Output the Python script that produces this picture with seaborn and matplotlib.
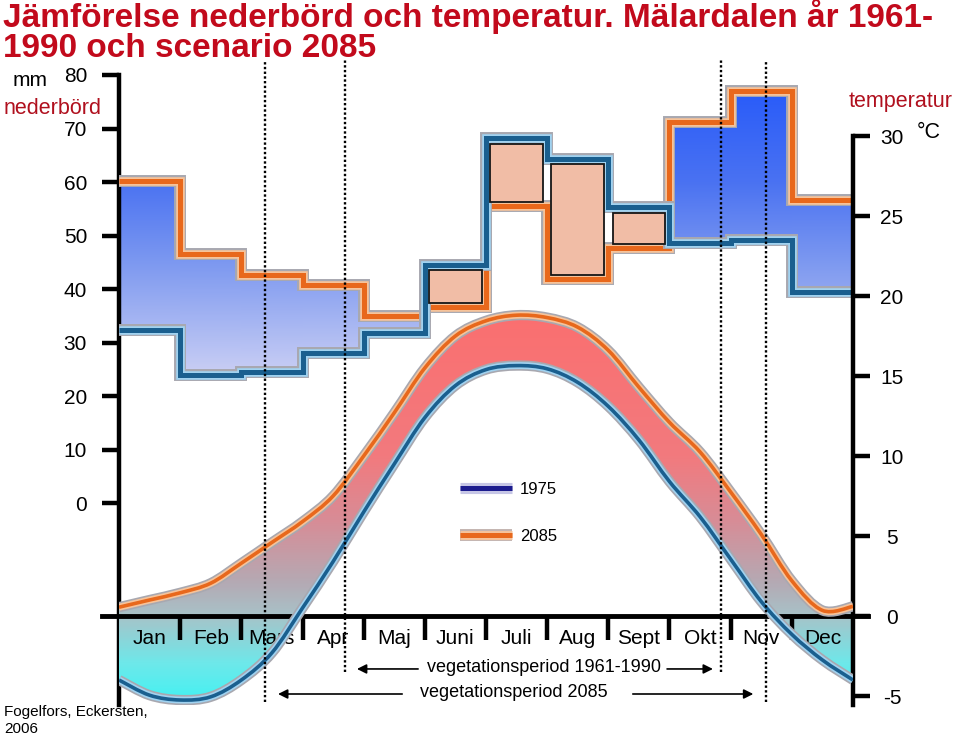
import numpy as np
import matplotlib
matplotlib.use("Agg")
import matplotlib.pyplot as plt
import seaborn as sns
from matplotlib.colors import LinearSegmentedColormap, Normalize
from matplotlib.lines import Line2D
from matplotlib.legend_handler import HandlerTuple
from matplotlib.path import Path
from matplotlib.patches import PathPatch

# ---------------- data ----------------
months = ['Jan', 'Feb', 'Mars', 'Apr', 'Maj', 'Juni', 'Juli', 'Aug', 'Sept', 'Okt', 'Nov', 'Dec']

# nederbörd per månad (mm)
prec_1975 = [32.3, 23.9, 24.5, 28.0, 31.8, 44.5, 68.2, 64.3, 55.3, 48.6, 49.2, 39.4]
prec_2085 = [60.2, 46.5, 42.6, 40.7, 35.0, 36.6, 55.5, 41.9, 47.7, 71.2, 77.0, 56.6]

# temperatur, avläst varje halvmånad (°C)
temp_time = [0, 0.5, 1, 1.5, 2, 2.5, 3, 3.5, 4, 4.5, 5, 5.5, 6,
             6.5, 7, 7.5, 8, 8.5, 9, 9.5, 10, 10.5, 11, 11.5, 12]
temp_1975 = [-4.0, -4.95, -5.25, -5.05, -4.0, -2.3, 0.5, 3.4, 6.5, 9.5, 12.4, 14.4, 15.4,
             15.65, 15.45, 14.6, 13.1, 11.0, 8.4, 6.2, 3.55, 0.9, -1.15, -2.75, -4.0]
temp_2085 = [0.55, 1.0, 1.45, 2.05, 3.3, 4.6, 5.9, 7.5, 10.0, 12.7, 15.5, 17.5, 18.45,
             18.8, 18.65, 18.05, 16.6, 14.3, 12.1, 10.25, 7.75, 5.1, 2.2, 0.35, 0.6]

# vegetationsperiod, start/slut (månad)
veg_1961_1990 = [3.69, 9.84]
veg_2085 = [2.39, 10.57]

prec_ticks = [0, 10, 20, 30, 40, 50, 60, 70, 80]
temp_ticks = [-5, 0, 5, 10, 15, 20, 25, 30]
title_lines = ['Jämförelse nederbörd och temperatur. Mälardalen år 1961-',
               '1990 och scenario 2085']

# ---------------- style ----------------
sns.set_style("white")
plt.rcParams['font.family'] = ['Liberation Sans', 'DejaVu Sans']
plt.rcParams['axes.unicode_minus'] = False
plt.rcParams['axes.edgecolor'] = 'black'
plt.rcParams['xtick.color'] = 'black'
plt.rcParams['ytick.color'] = 'black'
plt.rcParams['text.color'] = 'black'

RED = '#c20a1c'
DARK_RED = '#b0101e'
BLUE = '#1a5f8f'
BLUE_LIGHT = '#a0d2f0'
ORANGE = '#e8681c'
ORANGE_LIGHT = '#f6c39a'
GREY = '#a8a8b0'

W, H = 960, 736
def fx(px):
    return px / W
def fy(py):
    return 1 - py / H

def smooth_verts(x, y):
    # utjämnad linje genom punkterna (som Excels "utjämnad linje"), kubiska bezier-kurvor
    p = np.column_stack([x, y]).astype(float)
    q = np.vstack([p[0], p, p[-1]])
    verts = [p[0]]
    for i in range(1, len(q) - 2):
        verts += [q[i] + (q[i + 1] - q[i - 1]) / 6, q[i + 1] - (q[i + 2] - q[i]) / 6, q[i + 1]]
    return np.array(verts)

fig = plt.figure(figsize=(9.6, 7.36), dpi=100)
fig.patch.set_facecolor('white')
ax_p = fig.add_axes([fx(119), fy(705), 734 / W, 630 / H])   # nederbörd (vänster)
ax = ax_p.twinx()                                             # temperatur (höger)
ax.patch.set_visible(False)
ax.set_axisbelow(False)

# ---------------- nederbörd ----------------
prec_cmap = LinearSegmentedColormap.from_list(
    'prec', [(0, '#d2d6f6'), (0.083, '#c6ccf4'), (0.417, '#7c98f0'),
             (0.667, '#4a72f2'), (1, '#2458fa')])
prec_norm = Normalize(20, 80)
for i, (b, o) in enumerate(zip(prec_1975, prec_2085)):
    if o > b:
        ax_p.imshow(np.linspace(o, b, 120)[:, None], extent=(i, i + 1, b, o),
                    cmap=prec_cmap, norm=prec_norm, aspect='auto', zorder=1)

xs = list(range(13))
for vals, core, light in [(prec_2085, ORANGE, ORANGE_LIGHT), (prec_1975, BLUE, BLUE_LIGHT)]:
    ys = vals + [vals[-1]]
    for c, lw in [(GREY, 8.6), (light, 6.2), (core, 3.6)]:
        sns.lineplot(x=xs, y=ys, ax=ax_p, color=c, lw=lw, drawstyle='steps-post',
                     solid_joinstyle='miter', solid_capstyle='butt', zorder=3)

# månader där 1975 > 2085 : laxfärgade rutor
for i, (b, o) in enumerate(zip(prec_1975, prec_2085)):
    if b > o:
        ax_p.bar(i + 0.5, b - o - 1.8, bottom=o + 0.8, width=0.86, color='#f1bda6',
                 edgecolor='#161616', linewidth=1.3, zorder=5)

ax_p.set_xlim(0, 12)
ax_p.set_ylim(-37.7, 80)
ax_p.set_yticks(prec_ticks)
ax_p.tick_params(axis='y', direction='out', length=12, width=3.2, labelsize=15, pad=11,
                 left=True, right=False)
ax_p.xaxis.set_visible(False)
ax_p.set_xlabel('')
ax_p.set_ylabel('')
for s in ['top', 'right', 'bottom']:
    ax_p.spines[s].set_visible(False)
ax_p.spines['left'].set_linewidth(3.2)

# ---------------- temperatur ----------------
temp_cmap = LinearSegmentedColormap.from_list(
    'temp', [(0, '#38f4f4'), (0.115, '#6ee8ea'), (0.231, '#a8c2c8'), (0.308, '#b4aab4'),
             (0.462, '#d88c96'), (0.615, '#f27a7e'), (1, '#fc6e6e')])
temp_norm = Normalize(-6, 20)

v85 = smooth_verts(temp_time, temp_2085)
v75 = smooth_verts(temp_time, temp_1975)
k = len(v85) - 1
band_path = Path(np.vstack([v85, v75[::-1], v85[:1]]),
                 [Path.MOVETO] + [Path.CURVE4] * k + [Path.LINETO] + [Path.CURVE4] * k
                 + [Path.CLOSEPOLY])
im = ax.imshow(np.linspace(20, -6, 300)[:, None], extent=(0, 12, -6, 20), cmap=temp_cmap,
               norm=temp_norm, aspect='auto', zorder=1, interpolation='bilinear')
im.set_clip_path(band_path, transform=ax.transData)

for verts, core, light in [(v85, ORANGE, ORANGE_LIGHT), (v75, BLUE, BLUE_LIGHT)]:
    curve = Path(verts, [Path.MOVETO] + [Path.CURVE4] * (len(verts) - 1))
    for c, lw in [(GREY, 7.4), (light, 5.0), (core, 2.6)]:
        ax.add_patch(PathPatch(curve, facecolor='none', edgecolor=c, lw=lw,
                               capstyle='butt', joinstyle='round', zorder=3))

ax.set_xlim(0, 12)
ax.set_ylim(-5.5625, 33.8125)
ax.set_yticks(temp_ticks)
ax.tick_params(axis='y', direction='out', length=12, width=3.2, labelsize=15, pad=16,
               right=True, left=False)
for lbl in ax.get_yticklabels():
    lbl.set_horizontalalignment('center')

ax.xaxis.set_visible(True)
ax.set_xticks(range(1, 12))
ax.set_xticklabels([])
ax.set_xticks([i + 0.5 for i in range(12)], minor=True)
ax.set_xticklabels(months, minor=True)
ax.tick_params(axis='x', which='major', direction='out', length=17, width=3.2, bottom=True)
ax.tick_params(axis='x', which='minor', length=0, labelsize=15, pad=9, bottom=True)
ax.spines['left'].set_visible(False)
ax.spines['top'].set_visible(False)
ax.spines['right'].set_bounds(-5.5625, 30)
ax.spines['right'].set_linewidth(3.2)
ax.spines['bottom'].set_position(('data', 0))
ax.spines['bottom'].set_bounds(-0.28, 12.25)
ax.spines['bottom'].set_linewidth(3.5)

# vegetationsperiod: prickade linjer, pilar, text
ax.vlines(veg_1961_1990, -3.5, 34.75, colors='black', linestyles=(0, (1, 1)), lw=1.7,
          clip_on=False, zorder=10)
ax.vlines(veg_2085, -5.375, 34.75, colors='black', linestyles=(0, (1, 1)), lw=1.7,
          clip_on=False, zorder=10)
arrow = dict(arrowstyle='-|>', color='black', lw=1.2, mutation_scale=14, shrinkA=0, shrinkB=0)
y1, y2 = -3.31, -4.875
ax.annotate('', xy=(veg_1961_1990[0] + 0.2, y1), xytext=(4.89, y1), arrowprops=arrow,
            annotation_clip=False)
ax.annotate('', xy=(veg_1961_1990[1] - 0.13, y1), xytext=(8.96, y1), arrowprops=arrow,
            annotation_clip=False)
ax.annotate('', xy=(veg_2085[0] + 0.21, y2), xytext=(4.63, y2), arrowprops=arrow,
            annotation_clip=False)
ax.annotate('', xy=(veg_2085[1] - 0.2, y2), xytext=(8.40, y2), arrowprops=arrow,
            annotation_clip=False)
ax.text(6.95, -3.25, 'vegetationsperiod 1961-1990', ha='center', va='center', fontsize=13)
ax.text(6.46, -4.81, 'vegetationsperiod 2085', ha='center', va='center', fontsize=13)

# legend
h1975 = (Line2D([], [], color='#c6c6e6', lw=8, solid_capstyle='butt'),
         Line2D([], [], color='#1c1c8e', lw=3.6, solid_capstyle='butt'))
h2085 = (Line2D([], [], color='#c4b4b0', lw=8.6, solid_capstyle='butt'),
         Line2D([], [], color=ORANGE_LIGHT, lw=6.4, solid_capstyle='butt'),
         Line2D([], [], color=ORANGE, lw=3.6, solid_capstyle='butt'))
fig.legend(handles=[h1975, h2085], labels=['1975', '2085'],
           handler_map={tuple: HandlerTuple(ndivide=1, pad=0)}, loc='upper left',
           bbox_to_anchor=(fx(460), fy(482)), frameon=False, fontsize=12,
           handlelength=3.1, handletextpad=0.5, labelspacing=1.9, borderpad=0,
           borderaxespad=0)

# ---------------- texter ----------------
title_family = ['Liberation Sans Narrow', 'DejaVu Sans Condensed', 'Liberation Sans']
t1 = fig.text(fx(3), fy(27), title_lines[0], fontsize=24, fontweight='bold', color=RED,
              family=title_family, fontstretch='condensed', va='baseline', ha='left')
t2 = fig.text(fx(3), fy(57), title_lines[1], fontsize=24, fontweight='bold', color=RED,
              family=title_family, fontstretch='condensed', va='baseline', ha='left')
fig.canvas.draw()
tw = t1.get_window_extent().width
if tw > 930:
    t1.set_fontsize(24 * 930 / tw)
    t2.set_fontsize(24 * 930 / tw)

fig.text(fx(30), fy(80), 'mm', fontsize=15, ha='center', va='center')
fig.text(fx(4), fy(108), 'nederbörd', fontsize=15.5, color=DARK_RED, ha='left', va='center')
fig.text(fx(849), fy(102), 'temperatur', fontsize=15.5, color=DARK_RED, ha='left', va='center')
fig.text(fx(917), fy(133), '°C', fontsize=15.5, ha='left', va='center')
fig.text(fx(4), fy(712), 'Fogelfors, Eckersten,', fontsize=11, ha='left', va='center')
fig.text(fx(4), fy(729), '2006', fontsize=11, ha='left', va='center')

fig.savefig('out.png', dpi=100)
